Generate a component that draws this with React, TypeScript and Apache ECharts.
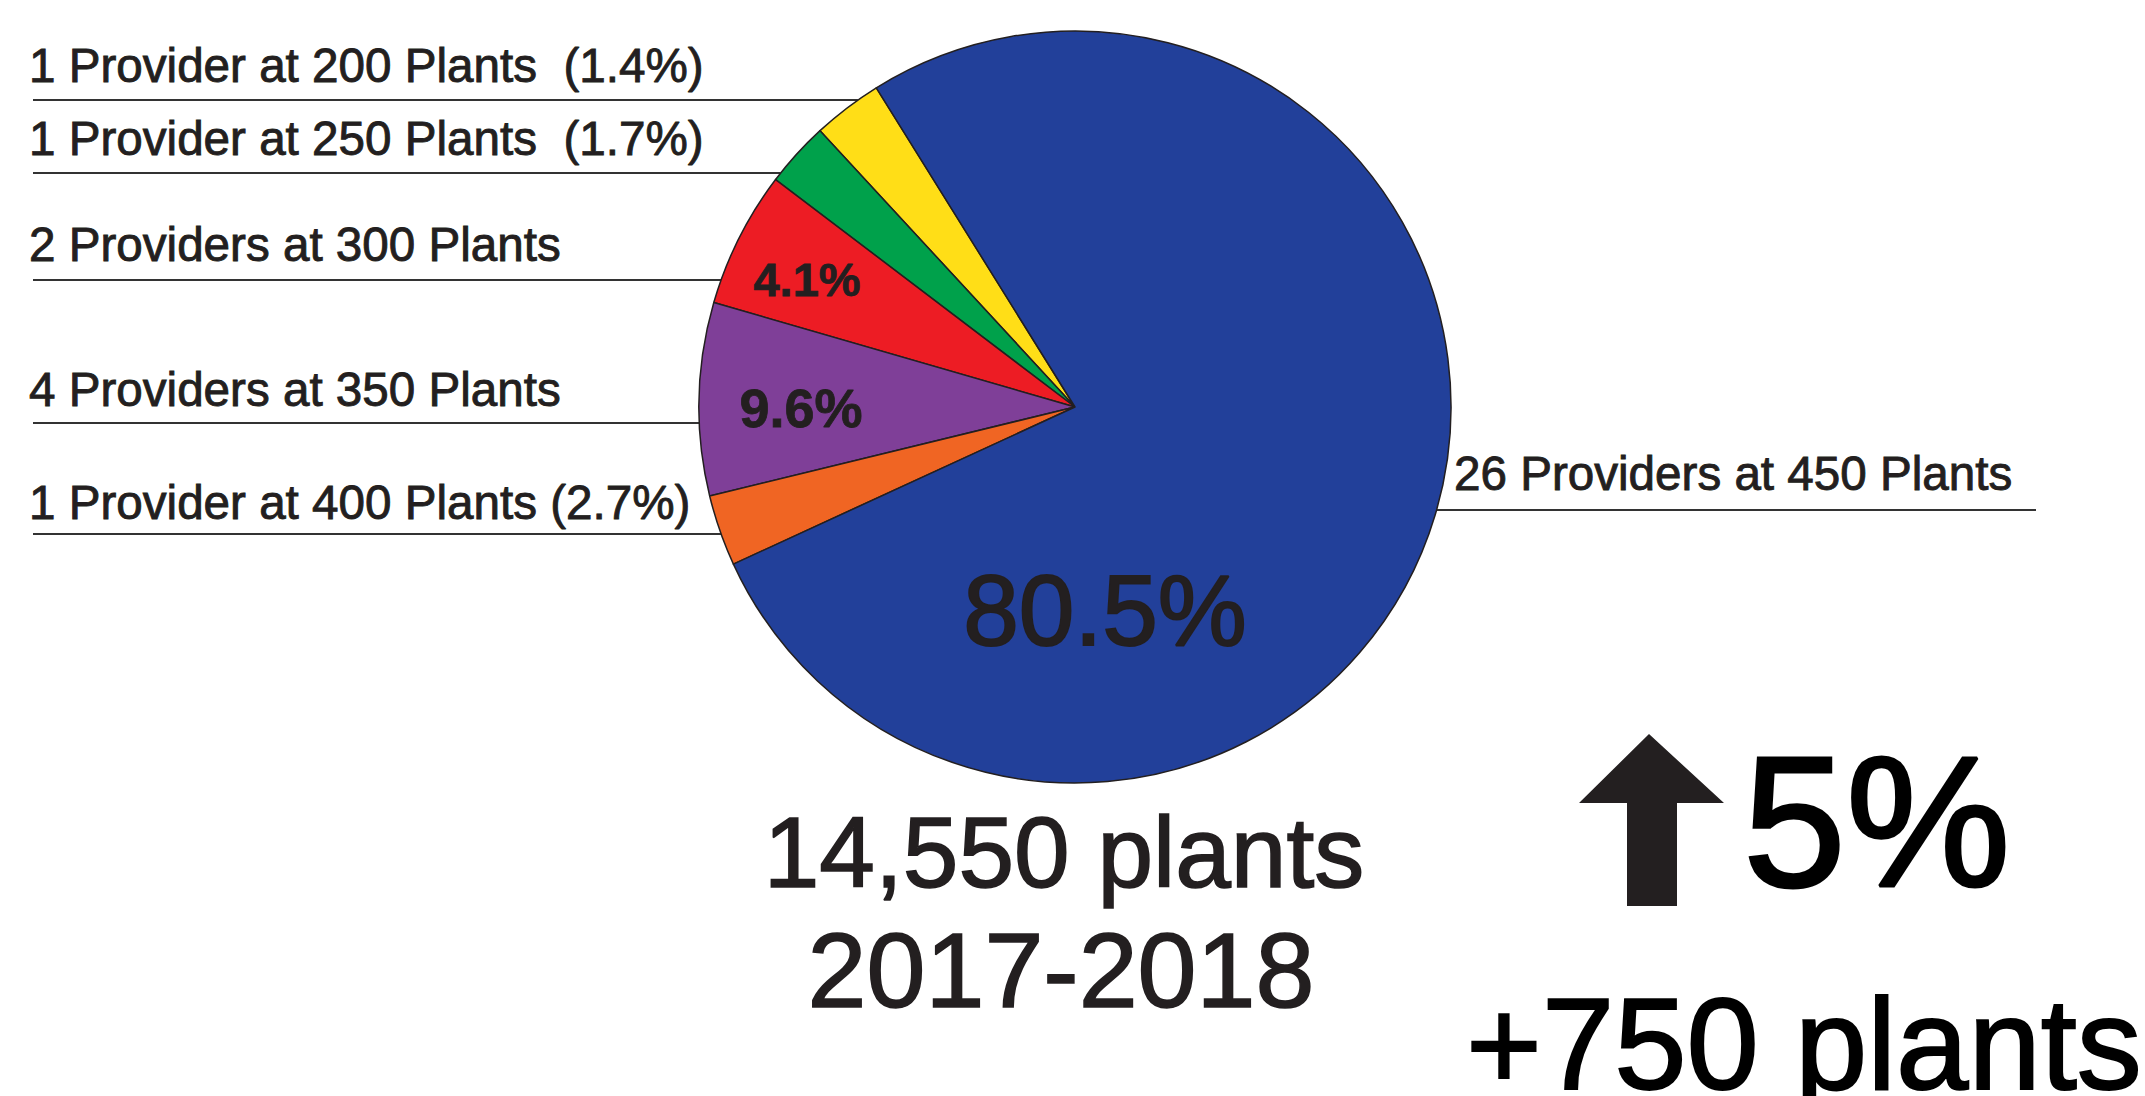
import React, { useEffect, useRef } from "react";
import * as echarts from "echarts";

// ---------- data ----------
const categories = ["200 Plants", "250 Plants", "300 Plants", "350 Plants", "400 Plants", "450 Plants"];
// share of the circle as drawn in the picture (%)
const sliceShares = [3.0, 2.8, 5.86, 8.28, 3.06, 77.0];
const providerLabels = [
  "1 Provider at 200 Plants\u00a0 (1.4%)",
  "1 Provider at 250 Plants\u00a0 (1.7%)",
  "2 Providers at 300 Plants",
  "4 Providers at 350 Plants",
  "1 Provider at 400 Plants (2.7%)",
  "26 Providers at 450 Plants",
];
const insideLabels = ["", "", "4.1%", "9.6%", "", "80.5%"];
const sliceColors = ["#FFDE17", "#00A14B", "#ED1C24", "#7F3F98", "#F06523", "#22409A"];
const totalLines = ["14,550 plants", "2017-2018"];
const changeLines = ["5%", "+750 plants"];

// ---------- layout ----------
const W = 2145;
const H = 1096;
const CX = 1075;
const CY = 407;
const R = 376;
const START_ANGLE = 121.9;
const FONT = "'Liberation Sans', Arial, Helvetica, sans-serif";
const INK = "#231F20";
const LABEL_FS = 47.6;
const outerLayout = [
  { side: "left", textY: 65, lineY: 100 },
  { side: "left", textY: 138, lineY: 173 },
  { side: "left", textY: 244, lineY: 280 },
  { side: "left", textY: 389, lineY: 423 },
  { side: "left", textY: 502, lineY: 534 },
  { side: "right", textY: 473, lineY: 510 },
];
const LEFT_TEXT_X = 29;
const LEFT_LINE_X = 33;
const RIGHT_TEXT_X = 1454;
const RIGHT_LINE_X = 2036;
const insideLayout = [
  null,
  null,
  { x: 807, y: 279, fs: 47, bold: true, stroke: 0.8 },
  { x: 801, y: 408, fs: 54, bold: true, stroke: 0.8 },
  null,
  { x: 1105, y: 610, fs: 100, bold: false, stroke: 2 },
];

export default function App() {
  const ref = useRef<HTMLDivElement>(null);

  useEffect(() => {
    document.body.style.margin = "0";
    document.body.style.overflow = "hidden";
    if (!ref.current) return;
    const chart = echarts.init(ref.current, undefined, { renderer: "svg" });

    const edgeX = (y: number, side: string) => {
      const dy = y - CY;
      const dx = Math.sqrt(Math.max(0, R * R - dy * dy));
      return side === "left" ? CX - dx : CX + dx;
    };

    const outerData = categories.map((name, i) => ({
      name,
      value: sliceShares[i],
      itemStyle: { color: sliceColors[i] },
    }));

    const innerData = categories.map((name, i) => {
      const L = insideLayout[i];
      return {
        name,
        value: sliceShares[i],
        label: L
          ? {
              show: true,
              fontSize: L.fs,
              fontWeight: L.bold ? "bold" : "normal",
              textBorderColor: INK,
              textBorderWidth: L.stroke,
            }
          : { show: false },
      };
    });

    chart.setOption({
      animation: false,
      backgroundColor: "#ffffff",
      series: [
        {
          type: "pie",
          center: [CX, CY],
          radius: R,
          startAngle: START_ANGLE,
          clockwise: false,
          avoidLabelOverlap: false,
          silent: true,
          itemStyle: { borderColor: INK, borderWidth: 1.5 },
          label: {
            show: true,
            position: "outside",
            fontFamily: FONT,
            fontSize: LABEL_FS,
            color: INK,
            textBorderColor: INK,
            textBorderWidth: 0.9,
            formatter: (p: any) => providerLabels[p.dataIndex],
          },
          labelLine: {
            show: true,
            length: 10,
            length2: 10,
            lineStyle: { color: "#333333", width: 1.8 },
          },
          labelLayout: (p: any) => {
            const L = outerLayout[p.dataIndex];
            const ex = edgeX(L.lineY, L.side);
            if (L.side === "left") {
              return {
                x: LEFT_TEXT_X,
                y: L.textY,
                align: "left",
                verticalAlign: "middle",
                labelLinePoints: [
                  [ex, L.lineY],
                  [ex, L.lineY],
                  [LEFT_LINE_X, L.lineY],
                ],
              };
            }
            return {
              x: RIGHT_TEXT_X,
              y: L.textY,
              align: "left",
              verticalAlign: "middle",
              labelLinePoints: [
                [ex, L.lineY],
                [ex, L.lineY],
                [RIGHT_LINE_X, L.lineY],
              ],
            };
          },
          data: outerData,
        },
        {
          type: "pie",
          center: [CX, CY],
          radius: R,
          startAngle: START_ANGLE,
          clockwise: false,
          avoidLabelOverlap: false,
          silent: true,
          itemStyle: { color: "rgba(0,0,0,0)", borderWidth: 0 },
          label: {
            position: "inside",
            fontFamily: FONT,
            color: INK,
            formatter: (p: any) => insideLabels[p.dataIndex],
          },
          labelLine: { show: false },
          labelLayout: (p: any) => {
            const L = insideLayout[p.dataIndex];
            if (!L) return {};
            return { x: L.x, y: L.y, align: "center", verticalAlign: "middle" };
          },
          data: innerData,
        },
      ],
      graphic: [
        {
          type: "text",
          style: {
            text: totalLines[0],
            x: 1064,
            y: 852,
            fill: INK,
            stroke: INK,
            lineWidth: 1.6,
            font: `100px ${FONT}`,
            textAlign: "center",
            textVerticalAlign: "middle",
          },
        },
        {
          type: "text",
          style: {
            text: totalLines[1],
            x: 1061,
            y: 970,
            fill: INK,
            stroke: INK,
            lineWidth: 1.6,
            font: `106px ${FONT}`,
            textAlign: "center",
            textVerticalAlign: "middle",
          },
        },
        {
          type: "polygon",
          shape: {
            points: [
              [1649, 734],
              [1724, 803],
              [1677, 803],
              [1677, 906],
              [1627, 906],
              [1627, 803],
              [1579, 803],
            ],
          },
          style: { fill: INK },
        },
        {
          type: "text",
          style: {
            text: changeLines[0],
            x: 1743,
            y: 822,
            fill: "#000000",
            stroke: "#000000",
            lineWidth: 3,
            font: `185px ${FONT}`,
            textAlign: "left",
            textVerticalAlign: "middle",
          },
        },
        {
          type: "text",
          style: {
            text: changeLines[1],
            x: 1466,
            y: 1044,
            fill: "#000000",
            stroke: "#000000",
            lineWidth: 2,
            font: `130px ${FONT}`,
            textAlign: "left",
            textVerticalAlign: "middle",
          },
        },
      ],
    });

    return () => {
      chart.dispose();
    };
  }, []);

  return <div ref={ref} style={{ width: W, height: H }} />;
}
